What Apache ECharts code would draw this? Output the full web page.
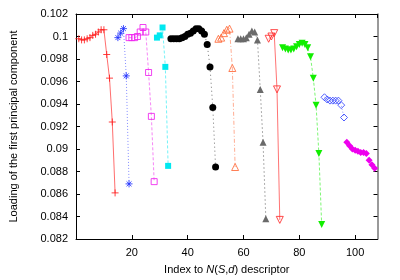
<!DOCTYPE html>
<html><head><meta charset="utf-8">
<script src="https://cdn.jsdelivr.net/npm/echarts@6/dist/echarts.min.js"></script>
<style>html,body{margin:0;padding:0;background:#fff}#c{width:400px;height:280px}</style>
</head><body><div id="c"></div>
<script>
// ---- data ----
const xTickLabels = ['20', '40', '60', '80', '100'];
const yTickLabels = ['0.082','0.084','0.086','0.088','0.09','0.092','0.094','0.096','0.098','0.1','0.102'];

const s1x = [1,2,3,4,5,6,7,8,9,10,11,12,13,14];
const s1y = [0.0998,0.0997,0.0997,0.0998,0.0999,0.1001,0.1002,0.1004,0.1006,0.1006,0.0984,0.0963,0.0924,0.0861];
const s2x = [15,16,17,18,19];
const s2y = [0.0999,0.1003,0.1007,0.0965,0.0869];
const s3x = [19,20,21,22,23,24,25,26,27,28];
const s3y = [0.0999,0.0999,0.0999,0.1000,0.1004,0.1008,0.1004,0.0968,0.0929,0.0871];
const s4x = [29,30,31,32,33];
const s4y = [0.0999,0.1001,0.1008,0.0973,0.0885];
const s5x = [34,35,36,37,38,39,40,41,42,43,44,45,46,47,48,49,50];
const s5y = [0.0998,0.0998,0.0998,0.0998,0.0999,0.1000,0.1002,0.1003,0.1005,0.1007,0.1007,0.1005,0.1002,0.0993,0.0973,0.0937,0.0884];
const s6x = [51,52,53,54,55,56,57];
const s6y = [0.0998,0.0999,0.1003,0.1006,0.1007,0.0972,0.0884];
const s7x = [58,59,60,61,62,63,64,65,66,67,68];
const s7y = [0.0998,0.0998,0.0998,0.0999,0.1002,0.1005,0.1004,0.0997,0.0953,0.0906,0.0838];
const s8x = [69,70,71,72,73];
const s8y = [0.0998,0.1000,0.1003,0.0953,0.0837];
const s9x = [74,75,76,77,78,79,80,81,82,83,84,85,86,87,88];
const s9y = [0.0990,0.0989,0.0988,0.0988,0.0989,0.0991,0.0993,0.0994,0.0993,0.0990,0.0982,0.0963,0.0939,0.0896,0.0833];
const s10x = [89,90,91,92,93,94,95,96];
const s10y = [0.0946,0.0944,0.0943,0.0943,0.0943,0.0943,0.0939,0.0928];
const s11x = [97,98,99,100,101,102,103,104,105,106,107];
const s11y = [0.0906,0.0903,0.0900,0.0899,0.0898,0.0897,0.0897,0.0896,0.0890,0.0886,0.0883];

// ---- styles ----
const P = {
  plus: 'path://M0,5L10,5M5,0L5,10',
  star: 'path://M0,5L10,5M5,0L5,10M1.5,1.5L8.5,8.5M1.5,8.5L8.5,1.5',
  sq: 'path://M0,0L10,0L10,10L0,10Z',
  tri: 'path://M5,0L10,9L0,9Z',
  itri: 'path://M0,0L10,0L5,9Z',
  dia: 'path://M5,0L10,5L5,10L0,5Z'
};
function mk(xs, ys, color, symbol, size, filled, lineType, lineOpacity) {
  return {
    type: 'line',
    data: xs.map((x, i) => [x, ys[i]]),
    symbol: symbol,
    symbolSize: size,
    showAllSymbol: true,
    itemStyle: filled ? { color: color, borderWidth: 0 } : { color: 'none', borderColor: color, borderWidth: 1, opacity: 0.85 },
    lineStyle: { color: color, width: 1, type: lineType, opacity: lineOpacity || 0.55 },
    emphasis: { disabled: true },
    animation: false
  };
}
const series = [
  mk(s1x, s1y, '#ff2020', P.plus, 7, false, 'solid', 0.65),
  mk(s2x, s2y, '#2030ff', P.star, 7, false, [1, 2]),
  mk(s3x, s3y, '#ee22ee', P.sq, 6, false, [3, 2]),
  mk(s4x, s4y, '#00e8f0', 'rect', 6, true, [3, 2]),
  mk(s5x, s5y, '#000000', 'circle', 7, true, [1, 3]),
  mk(s6x, s6y, '#ff6a3a', P.tri, 7, false, [4, 2, 1, 2]),
  mk(s7x, s7y, '#6a6a6a', 'triangle', 7, true, [2, 2]),
  mk(s8x, s8y, '#ff2a2a', P.itri, 7, false, 'solid', 0.65),
  mk(s9x, s9y, '#11ee00', P.itri, 7, true, [3, 2]),
  mk(s10x, s10y, '#3344ff', P.dia, 7, false, [1, 2]),
  mk(s11x, s11y, '#ee00ee', 'diamond', 7, true, [2, 2])
];

const font = 'Liberation Sans, Arial, sans-serif';
const axCommon = {
  type: 'value',
  axisLine: { show: true, onZero: false, lineStyle: { color: '#000', width: 1 } },
  axisTick: { show: true, inside: true, length: 4, lineStyle: { color: '#000' } },
  splitLine: { show: false }
};
const chart = echarts.init(document.getElementById('c'), null, { renderer: 'canvas' });
chart.setOption({
  animation: false,
  backgroundColor: '#fff',
  grid: { left: 75, right: 22.5, top: 14, bottom: 40, containLabel: false },
  xAxis: [
    Object.assign({}, axCommon, {
      min: 0, max: 108, interval: 20, position: 'bottom',
      axisLabel: { show: true, color: '#000', fontSize: 11, fontFamily: font, margin: 8, showMaxLabel: false,
        formatter: v => { const i = Math.round(v / 20) - 1; return (i >= 0 && i < xTickLabels.length && Math.abs(v - (i + 1) * 20) < 1e-6) ? xTickLabels[i] : ''; } },
      name: 'Index to {i|N}({i|S},{i|d}) descriptor',
      nameLocation: 'middle', nameGap: 25,
      nameTextStyle: { color: '#000', fontSize: 11, fontFamily: font,
        rich: { i: { fontStyle: 'italic', fontSize: 11, fontFamily: font, color: '#000' } } }
    }),
    Object.assign({}, axCommon, {
      min: 0, max: 108, interval: 20, position: 'top',
      axisLabel: { show: false }
    })
  ],
  yAxis: [
    Object.assign({}, axCommon, {
      min: 0.082, max: 0.102, interval: 0.002, position: 'left',
      axisLabel: { show: true, color: '#000', fontSize: 11, fontFamily: font, margin: 8,
        formatter: v => { const i = Math.round((v - 0.082) / 0.002); return yTickLabels[i] || ''; } },
      name: 'Loading of the first principal component',
      nameLocation: 'middle', nameGap: 57,
      nameTextStyle: { color: '#000', fontSize: 11, fontFamily: font }
    }),
    Object.assign({}, axCommon, {
      min: 0.082, max: 0.102, interval: 0.002, position: 'right',
      axisLine: { show: true, onZero: false, lineStyle: { color: '#777', width: 1.5 } },
      axisLabel: { show: false }
    })
  ],
  series: series
});
</script>
</body></html>
